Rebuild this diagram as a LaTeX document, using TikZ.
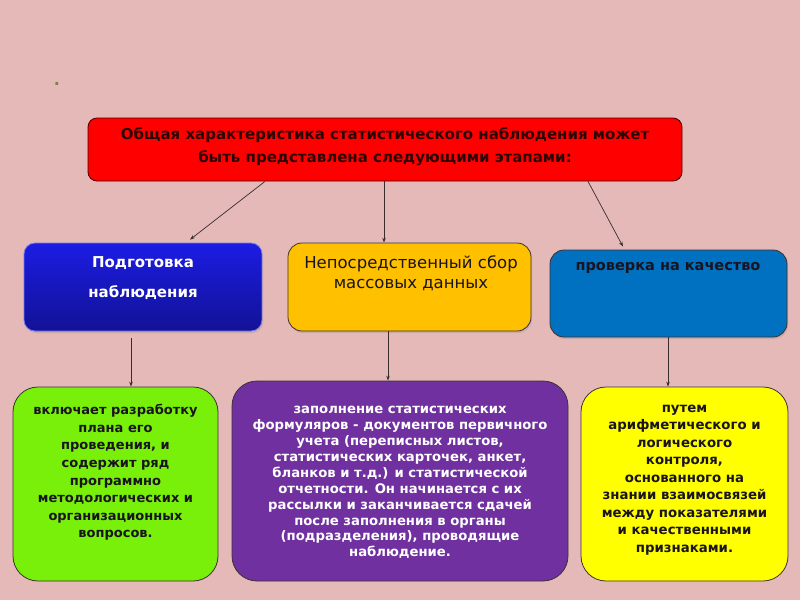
\documentclass[tikz,border=0pt]{standalone}
\usepackage{fontspec}
\setmainfont{DejaVu Sans}
\usetikzlibrary{arrows.meta,shadows}
\definecolor{bg}{RGB}{229,185,184}
\definecolor{edge}{RGB}{60,50,50}
\definecolor{linec}{RGB}{55,45,45}
\definecolor{txt}{RGB}{25,20,30}
\definecolor{toptxt}{RGB}{45,5,5}
\definecolor{topred}{RGB}{255,0,0}
\definecolor{bluetop}{RGB}{28,28,228}
\definecolor{bluebot}{RGB}{18,18,150}
\definecolor{orangef}{RGB}{255,192,0}
\definecolor{rblue}{RGB}{0,112,192}
\definecolor{greenf}{RGB}{120,240,10}
\definecolor{purplef}{RGB}{112,48,160}
\definecolor{yellowf}{RGB}{255,255,0}
\definecolor{dotc}{RGB}{110,140,60}
\begin{document}
\begin{tikzpicture}[x=1pt,y=-1pt,
  box/.style={draw=edge, line width=0.8pt, inner sep=0pt},
  shad/.style={drop shadow={opacity=0.25, shadow xshift=1pt, shadow yshift=-2pt}},
  label/.style={align=center, inner sep=0pt, text=txt},
  arr/.style={draw=linec, line width=0.7pt, -{Stealth[length=5pt,width=3.5pt]}}]
\fill[bg] (0,0) rectangle (800,600);
\useasboundingbox (0,0) rectangle (800,600);

\node[text=dotc, font=\fontsize{16}{16}\selectfont\bfseries] (dot) at (57,84) {.};

% top box
\node[box, draw=black!70!red, fill=topred, rounded corners=9pt, minimum width=594pt, minimum height=63pt] (top) at (385,149.5) {};
\node[label, text=toptxt, font=\bfseries\fontsize{15}{22.5}\selectfont] (toptext) at (385,146.5)
  {Общая характеристика статистического наблюдения может\\быть представлена следующими этапами:};

% middle row
\node[box, draw=bluetop!60!white, top color=bluetop, bottom color=bluebot, rounded corners=11pt, minimum width=238pt, minimum height=88pt, shad] (blue) at (143,287) {};
\node[label, text=white, font=\bfseries\fontsize{15}{30}\selectfont] (bluetext) at (143,278) {Подготовка\\наблюдения};

\node[box, fill=orangef, rounded corners=14pt, minimum width=243pt, minimum height=88pt, shad] (orange) at (409.5,287) {};
\node[label, font=\fontsize{16.5}{20}\selectfont] (orangetext) at (411,273) {Непосредственный сбор\\массовых данных};

\node[box, fill=rblue, rounded corners=14pt, minimum width=237pt, minimum height=87pt, shad] (rb) at (668.5,293.5) {};
\node[label, font=\bfseries\fontsize{14.5}{18}\selectfont] (rbtext) at (668,268) {проверка на качество};

% bottom row
\node[box, fill=greenf, rounded corners=25pt, minimum width=205pt, minimum height=194pt] (green) at (115.5,484) {};
\node[label, font=\bfseries\fontsize{13}{17.6}\selectfont] (greentext) at (115.5,472.5)
  {включает разработку\\плана его\\проведения, и\\содержит ряд\\программно\\методологических и\\организационных\\вопросов.};

\node[box, fill=purplef, rounded corners=25pt, minimum width=336pt, minimum height=200pt] (purple) at (400,481) {};
\node[label, text=white, font=\bfseries\fontsize{13.2}{15.9}\selectfont] (purpletext) at (400,482.5)
  {заполнение статистических\\формуляров - документов первичного\\учета (переписных листов,\\статистических карточек, анкет,\\бланков и т.д.) и статистической\\отчетности. Он начинается с их\\рассылки и заканчивается сдачей\\после заполнения в органы\\(подразделения), проводящие\\наблюдение.};

\node[box, fill=yellowf, rounded corners=25pt, minimum width=207pt, minimum height=194pt] (yellow) at (684.5,484) {};
\node[label, font=\bfseries\fontsize{13.3}{17.5}\selectfont] (yellowtext) at (684.5,480)
  {путем\\арифметического и\\логического\\контроля,\\основанного на\\знании взаимосвязей\\между показателями\\и качественными\\признаками.};

% connectors
\draw[arr] ([xshift=-120pt]top.south) -- ([xshift=47pt,yshift=3pt]blue.north);
\draw[arr] ([xshift=-1pt]top.south) -- ([xshift=-25.5pt]orange.north);
\draw[arr] ([xshift=203pt]top.south) -- ([xshift=-45.5pt,yshift=3pt]rb.north);
\draw[arr] ([xshift=-12pt,yshift=-7pt]blue.south) -- ([xshift=15.5pt]green.north);
\draw[arr] ([xshift=-21.5pt]orange.south) -- ([xshift=-12pt]purple.north);
\draw[arr] ([xshift=-0.5pt]rb.south) -- ([xshift=-16.5pt]yellow.north);
\end{tikzpicture}
\end{document}
